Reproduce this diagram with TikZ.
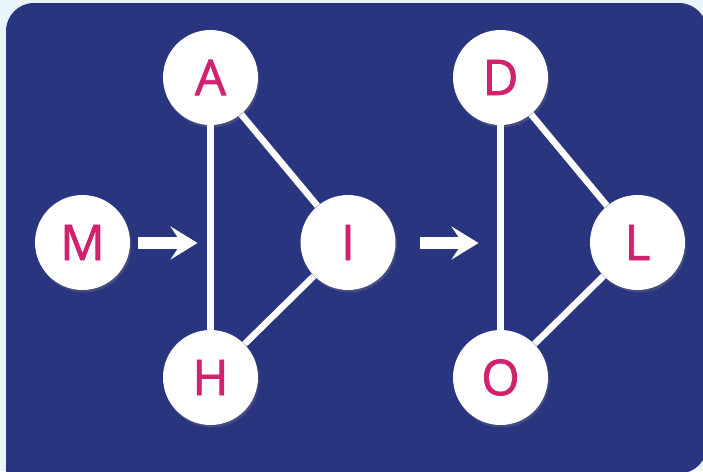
\documentclass[tikz,border=0pt]{standalone}
\usepackage{fontspec}
\setmainfont{Open Sans}
\newfontfamily\letterfont[FakeBold=1.6]{Open Sans}
\usetikzlibrary{arrows.meta,shadows}
\definecolor{mypagecolor}{HTML}{E9F5FD}
\definecolor{mypanelcolor}{HTML}{2A3580}
\definecolor{mylettercolor}{HTML}{D2226F}
\tikzset{
  letternode/.style={draw=none, fill=white, circle, minimum size=1.9cm, inner sep=0pt,
    text=mylettercolor, font=\letterfont\fontsize{28pt}{28pt}\selectfont,
    drop shadow={opacity=0.3, shadow xshift=0.03cm, shadow yshift=-0.05cm}},
  linkline/.style={draw=white, line width=0.13cm},
  bigarrow/.style={draw=white, line width=0.24cm,
    -{Stealth[length=0.54cm, width=0.66cm, inset=0.22cm]}}
}

\begin{document}
\begin{tikzpicture}[x=0.02cm, y=-0.02cm]%
\useasboundingbox (0,0) rectangle (703,471);%
\fill[mypagecolor] (0,0) rectangle (703,471);%
\fill[mypanelcolor, rounded corners=0.56cm] (6,3) rectangle (707,473.5);%
\fill[mypanelcolor] (6,400) rectangle (100,473.5);%
% first triangle
\node[letternode] (M) at (82.5, 242.5) {M};%
\node[letternode] (A) at (210.5, 77.5) {A};%
\node[letternode] (I) at (348, 242.5) {I};%
\node[letternode] (H) at (210.5, 377.5) {H};%
% second triangle
\node[letternode] (D) at (500.5, 77.5) {D};%
\node[letternode] (L) at (637.5, 242.5) {L};%
\node[letternode] (O) at (500.5, 377.5) {O};%
\draw[linkline] (A) -- (H);%
\draw[linkline] (A) -- (I);%
\draw[linkline] (I) -- (H);%
\draw[linkline] (D) -- (O);%
\draw[linkline] (D) -- (L);%
\draw[linkline] (L) -- (O);%
% arrows
\coordinate (arr1a) at (138, 243);%
\coordinate (arr1b) at (197.5, 243);%
\coordinate (arr2a) at (420, 243);%
\coordinate (arr2b) at (478.5, 243);%
\draw[bigarrow] (arr1a) -- (arr1b);%
\draw[bigarrow] (arr2a) -- (arr2b);%
\end{tikzpicture}
\end{document}
